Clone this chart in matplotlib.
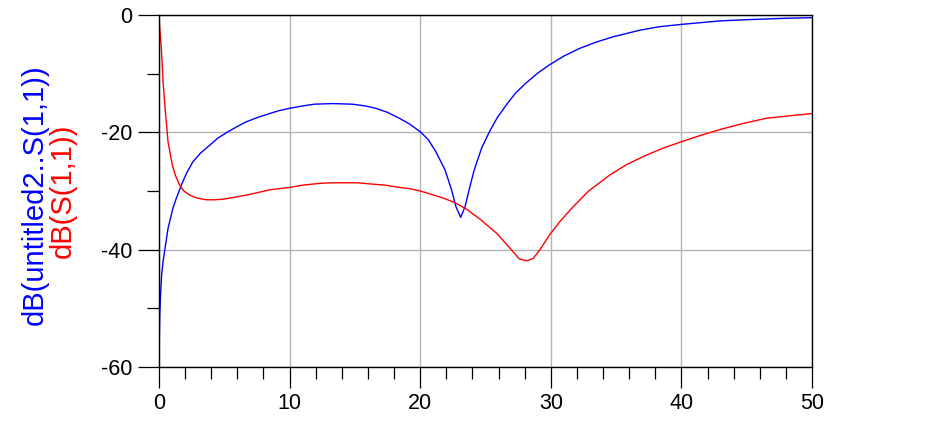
import matplotlib
matplotlib.use('Agg')
import matplotlib.pyplot as plt
from matplotlib.ticker import MultipleLocator

plt.rcParams['font.family'] = ['Liberation Sans', 'DejaVu Sans']
plt.rcParams['axes.unicode_minus'] = False

# blue trace: dB(untitled2..S(1,1))
freq_blue = [0.02, 0.06, 0.13, 0.2, 0.31, 0.46, 0.69, 1.07, 1.3, 1.71, 2.1, 2.6, 3.2, 3.88,
             4.5, 5.28, 6.0, 6.69, 7.5, 8.47, 9.2, 10.0, 11.0, 11.9, 13.3, 14.8, 15.8,
             16.6, 17.5, 18.4, 19.2, 20.0, 20.6, 21.2, 21.9, 22.4, 22.74, 23.1, 23.43,
             23.8, 24.14, 24.7, 25.3, 25.9, 26.6, 27.3, 28.1, 29.0, 29.9, 31.0, 32.2,
             33.5, 34.8, 36.8, 38.3, 40.0, 43.0, 45.0, 47.8, 50.0]
db_blue = [-56.0, -51.0, -47.2, -44.4, -42.0, -39.8, -36.4, -32.9, -31.4, -29.0, -27.0, -25.0,
           -23.5, -22.2, -21.0, -19.9, -19.0, -18.2, -17.5, -16.8, -16.3, -15.9, -15.5, -15.2,
           -15.1, -15.2, -15.5, -15.9, -16.6, -17.6, -18.6, -19.9, -21.2, -23.3, -26.4, -29.8,
           -32.7, -34.5, -32.7, -29.3, -26.4, -22.7, -19.9, -17.5, -15.3, -13.3, -11.6, -9.9,
           -8.5, -7.0, -5.7, -4.6, -3.7, -2.6, -2.0, -1.6, -1.0, -0.8, -0.57, -0.45]

# red trace: dB(S(1,1))
freq_red = [0.0, 0.05, 0.18, 0.31, 0.49, 0.69, 1.02, 1.25, 1.58, 1.9, 2.35, 2.9, 3.63, 4.2,
            4.9, 5.7, 6.69, 7.5, 8.47, 9.2, 10.0, 11.0, 12.3, 13.2, 14.3, 15.2, 16.2, 17.3,
            18.45, 19.2, 20.0, 20.75, 21.77, 22.66, 23.55, 24.58, 25.85, 26.9, 27.6, 28.15,
            28.65, 29.2, 29.9, 30.7, 31.7, 32.9, 34.5, 35.8, 37.3, 38.6, 40.0, 41.5, 43.0,
            44.7, 46.5, 48.2, 50.0]
db_red = [0.0, -2.0, -5.7, -11.4, -16.5, -21.6, -25.6, -27.3, -29.0, -30.0, -30.7, -31.2,
          -31.5, -31.5, -31.4, -31.1, -30.7, -30.3, -29.8, -29.6, -29.4, -29.0, -28.7, -28.6,
          -28.6, -28.6, -28.8, -29.0, -29.4, -29.6, -30.0, -30.5, -31.2, -32.0, -33.1, -34.8,
          -37.2, -39.8, -41.6, -41.9, -41.5, -39.9, -37.5, -35.2, -32.7, -30.0, -27.3, -25.5,
          -23.9, -22.7, -21.6, -20.5, -19.5, -18.5, -17.6, -17.2, -16.8]

fig = plt.figure(figsize=(9.33, 4.38), dpi=100)
ax = fig.add_axes([159/933, 1-367/438, (812-159)/933, (367-15)/438])

ax.plot(freq_blue, db_blue, color='#0000ff', lw=1.0)
ax.plot(freq_red, db_red, color='#ff0000', lw=1.0)

ax.set_xlim(0, 50)
ax.set_ylim(-60, 0)
ax.xaxis.set_major_locator(MultipleLocator(10))
ax.xaxis.set_minor_locator(MultipleLocator(2))
ax.yaxis.set_major_locator(MultipleLocator(20))
ax.yaxis.set_minor_locator(MultipleLocator(10))
ax.grid(True, which='major', color='#b4b4b4', lw=1.0)
ax.tick_params(which='major', length=15, width=0.9, labelsize=15.5, pad=4, direction='out')
ax.tick_params(which='minor', length=8.5, width=0.9, direction='out')
for s in ax.spines.values():
    s.set_linewidth(1.0)
    s.set_color('black')

fig.text(35/933, 1-195/438, 'dB(untitled2..S(1,1))', rotation=90, color='#0000ff',
         fontsize=21, ha='center', va='center')
fig.text(63/933, 1-191/438, 'dB(S(1,1))', rotation=90, color='#ff0000',
         fontsize=21, ha='center', va='center')

fig.savefig('out.png', dpi=100)
